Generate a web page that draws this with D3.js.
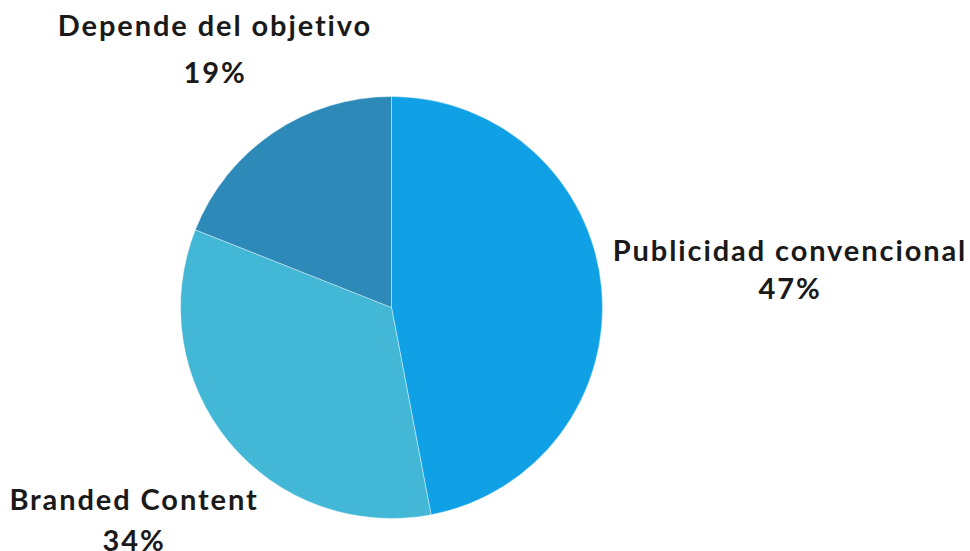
<!DOCTYPE html>
<html>
<head>
<meta charset="utf-8">
<script src="https://cdn.jsdelivr.net/npm/d3@7/dist/d3.min.js"></script>
<style>
body{margin:0;background:#fff}
svg text{font-family:Lato,"Open Sans",sans-serif;font-weight:700;fill:#1a1a1a;letter-spacing:1.9px}
</style>
</head>
<body>
<svg></svg>
<script>
var categories=["Publicidad convencional","Branded Content","Depende del objetivo"]
var values=[47,34,19]
var colors=["#10a0e6","#42b7d6","#2d8ab8"]

var screen={width:970,height:551}
var cx=391.5,cy=307.5,radius=211

// label spots: [center x, name baseline, gap to percent baseline]
var labelPos=[[790,261,38],[134,510,41],[215,36,47]]

var svg=d3.select("svg")
          .attr("width",screen.width)
          .attr("height",screen.height)

var pie=d3.pie().sort(null).value(function(d){return d})
var arc=d3.arc().innerRadius(0).outerRadius(radius)

var g=svg.append("g").attr("transform","translate("+cx+","+cy+")")

g.selectAll("path")
 .data(pie(values))
 .enter()
 .append("path")
 .attr("d",arc)
 .attr("fill",function(d,i){return colors[i]})
 .attr("stroke","#ffffff")
 .attr("stroke-width",0.4)

var labels=svg.selectAll("g.lab")
              .data(categories)
              .enter()
              .append("g")
              .classed("lab",true)
              .attr("transform",function(d,i){return "translate("+labelPos[i][0]+","+labelPos[i][1]+")"})

labels.append("text")
      .attr("text-anchor","middle")
      .style("font-size","29px")
      .text(function(d){return d})

labels.append("text")
      .attr("text-anchor","middle")
      .attr("y",function(d,i){return labelPos[i][2]})
      .style("font-size","29px")
      .text(function(d,i){return values[i]+"%"})
</script>
</body>
</html>
